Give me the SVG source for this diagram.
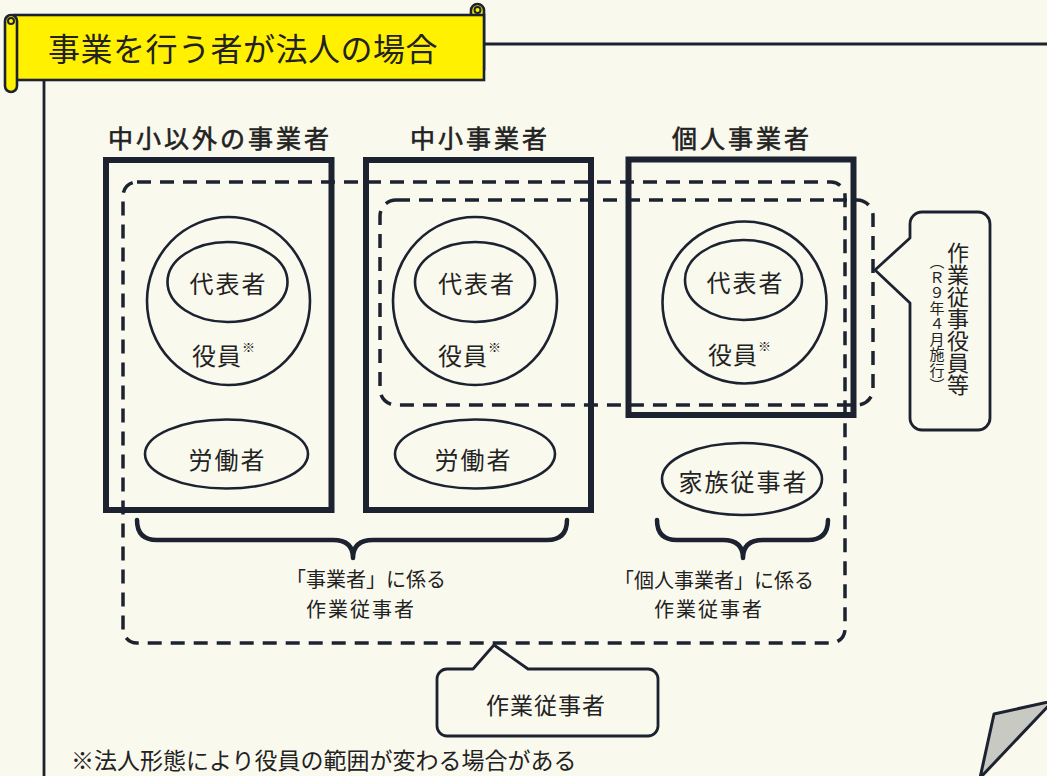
<svg xmlns="http://www.w3.org/2000/svg" width="1047" height="776" viewBox="0 0 1047 776">
<style>
  .t { font-family: "Noto Sans CJK JP", "Noto Sans", sans-serif; fill: #222; }
  .box { fill: none; stroke: #1c2230; stroke-width: 6; }
  .ell { fill: none; stroke: #1c2230; stroke-width: 2.6; }
  .dash { fill: none; stroke: #1c2230; stroke-width: 3.5; stroke-dasharray: 14 9; }
  .brace { fill: none; stroke: #1c2230; stroke-width: 4.5; stroke-linecap: round; stroke-linejoin: round; }
  .callout { fill: #faf9ee; stroke: #1c2230; stroke-width: 2.8; stroke-linejoin: round; }
  .frame { fill: none; stroke: #1c2230; stroke-width: 2.8; }
  .yel { fill: #fff100; stroke: #1c2230; stroke-width: 2.6; }
  .hdr { font-size: 25px; letter-spacing: 3px; stroke: #222; stroke-width: 0.6px; text-anchor: middle; dominant-baseline: central; }
  .lbl { font-size: 24px; letter-spacing: 2px; text-anchor: middle; dominant-baseline: central; }
  .sm { font-size: 20px; text-anchor: middle; dominant-baseline: central; }
</style>
<rect width="1047" height="776" fill="#faf9ee"/>

<g id="frame">
  <line class="frame" x1="484" y1="44" x2="1047" y2="44"/>
  <line class="frame" x1="44" y1="80" x2="44" y2="776"/>
</g>

<g id="banner">
  <rect class="yel" x="471" y="4" width="13" height="72" rx="6.5"/>
  <rect class="yel" x="14" y="15" width="470" height="65"/>
  <circle cx="477.5" cy="10" r="3" fill="none" stroke="#1c2230" stroke-width="2"/>
  <rect class="yel" x="5" y="15" width="12" height="77" rx="6"/>
  <circle cx="11" cy="21" r="3" fill="none" stroke="#1c2230" stroke-width="2"/>
  <text class="t" x="243" y="47" font-size="32" letter-spacing="0.5" text-anchor="middle" dominant-baseline="central">事業を行う者が法人の場合</text>
</g>

<g id="col-large">
  <text class="t hdr" x="220" y="137">中小以外の事業者</text>
  <rect class="box" x="106" y="160" width="225.5" height="350"/>
  <ellipse class="ell" cx="228.5" cy="301" rx="81.5" ry="84"/>
  <ellipse class="ell" cx="227.5" cy="282" rx="60" ry="40"/>
  <text class="t lbl" x="228.5" y="282">代表者</text>
  <text class="t" x="192" y="354" font-size="24" letter-spacing="1" dominant-baseline="central">役員<tspan font-size="13" dy="-8">※</tspan></text>
  <ellipse class="ell" cx="226.5" cy="454" rx="81.5" ry="34.5"/>
  <text class="t lbl" x="227.5" y="458">労働者</text>
</g>

<g id="col-sme">
  <text class="t hdr" x="480" y="137">中小事業者</text>
  <rect class="box" x="366" y="160" width="225" height="350"/>
  <ellipse class="ell" cx="475" cy="301" rx="82" ry="84"/>
  <ellipse class="ell" cx="475" cy="282" rx="60" ry="40"/>
  <text class="t lbl" x="477" y="282">代表者</text>
  <text class="t" x="438" y="354" font-size="24" letter-spacing="1" dominant-baseline="central">役員<tspan font-size="13" dy="-8">※</tspan></text>
  <ellipse class="ell" cx="475" cy="454" rx="80" ry="34.5"/>
  <text class="t lbl" x="473.5" y="458">労働者</text>
</g>

<g id="col-individual">
  <text class="t hdr" x="742" y="137">個人事業者</text>
  <rect class="box" x="628.5" y="159.5" width="225" height="255.5"/>
  <ellipse class="ell" cx="744.5" cy="302.5" rx="82" ry="81"/>
  <ellipse class="ell" cx="743.5" cy="280" rx="58.5" ry="40"/>
  <text class="t lbl" x="745.5" y="281">代表者</text>
  <text class="t" x="708" y="353" font-size="24" letter-spacing="1" dominant-baseline="central">役員<tspan font-size="13" dy="-8">※</tspan></text>
  <ellipse class="ell" cx="742" cy="479" rx="80" ry="36"/>
  <text class="t lbl" x="743.5" y="480">家族従事者</text>
</g>

<g id="groupings">
  <rect class="dash" x="123" y="182" width="722" height="461" rx="14"/>
  <rect class="dash" x="380" y="200" width="493" height="205" rx="16"/>
</g>

<g id="connectors">
  <path class="brace" d="M137,520 Q137,540 157,540 H333 Q353,540 353,558 Q353,540 373,540 H547 Q567,540 567,520"/>
  <path class="brace" d="M657,520 Q657,540 677,540 H723 Q743,540 743,558 Q743,540 763,540 H808 Q828,540 828,520"/>
</g>

<g id="label-business">
  <text class="t sm" x="366" y="578">「事業者」に係る</text>
  <text class="t sm" x="361" y="608" letter-spacing="2">作業従事者</text>
</g>

<g id="label-individual">
  <text class="t sm" x="714" y="579">「個人事業者」に係る</text>
  <text class="t sm" x="709" y="608" letter-spacing="2">作業従事者</text>
</g>

<g id="callout-officers">
  <path class="callout" d="M922,212 H978 A12,12 0 0 1 990,224 V418 A12,12 0 0 1 978,430 H922 A12,12 0 0 1 910,418 V303 L875,270 L910,238 V224 A12,12 0 0 1 922,212 Z"/>
  <text class="t" x="958" y="242" font-size="22" writing-mode="vertical-rl">作業従事役員等</text>
  <text class="t" x="937" y="254" font-size="15" letter-spacing="0.5" writing-mode="vertical-rl">（Ｒ９年４月施行）</text>
</g>

<g id="callout-workers">
  <path class="callout" d="M447,669 H473 L494,645 L528,669 H648 A10,10 0 0 1 658,679 V726 A10,10 0 0 1 648,736 H447 A10,10 0 0 1 437,726 V679 A10,10 0 0 1 447,669 Z"/>
  <text class="t" x="546" y="704" font-size="23" letter-spacing="1" text-anchor="middle" dominant-baseline="central">作業従事者</text>
</g>

<g id="footnote">
  <text class="t" x="71" y="759" font-size="23" dominant-baseline="central">※法人形態により役員の範囲が変わる場合がある</text>
</g>

<g id="page-curl">
  <polygon points="994,714 1053,701 980,778" fill="#c9c9c4" stroke="#1c2230" stroke-width="3" stroke-linejoin="round"/>
</g>
</svg>
